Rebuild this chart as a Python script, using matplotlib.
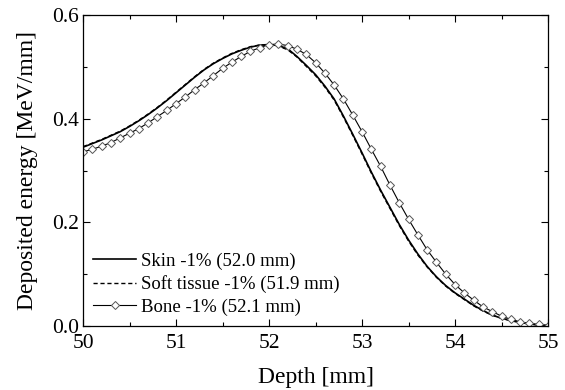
import matplotlib
matplotlib.use("Agg")
import matplotlib.pyplot as plt
import numpy as np
from matplotlib.ticker import MultipleLocator

plt.rcParams['font.family'] = ['Liberation Serif', 'DejaVu Serif']

depth = np.round(np.arange(50.0, 55.05, 0.1), 1)

skin = [0.345, 0.352, 0.359, 0.367, 0.375, 0.385, 0.396, 0.408, 0.421, 0.435,
        0.450, 0.465, 0.480, 0.494, 0.506, 0.516, 0.525, 0.532, 0.538, 0.542,
        0.543, 0.541, 0.535, 0.520, 0.503, 0.485, 0.463, 0.438, 0.405, 0.370,
        0.334, 0.297, 0.262, 0.229, 0.196, 0.166, 0.139, 0.115, 0.095, 0.078,
        0.064, 0.052, 0.040, 0.030, 0.021, 0.015, 0.011, 0.007, 0.004, 0.002,
        0.001]

soft = [0.346, 0.353, 0.360, 0.368, 0.376, 0.386, 0.397, 0.409, 0.422, 0.436,
        0.451, 0.466, 0.481, 0.495, 0.507, 0.517, 0.526, 0.533, 0.539, 0.542,
        0.542, 0.540, 0.533, 0.519, 0.501, 0.483, 0.461, 0.436, 0.403, 0.368,
        0.332, 0.295, 0.260, 0.227, 0.194, 0.164, 0.137, 0.114, 0.094, 0.077,
        0.063, 0.051, 0.039, 0.029, 0.021, 0.015, 0.010, 0.007, 0.004, 0.002,
        0.001]

bone = [0.336, 0.341, 0.347, 0.354, 0.363, 0.372, 0.381, 0.392, 0.404, 0.416,
        0.429, 0.442, 0.456, 0.469, 0.483, 0.497, 0.509, 0.520, 0.530, 0.537,
        0.543, 0.544, 0.541, 0.534, 0.524, 0.508, 0.488, 0.465, 0.438, 0.407,
        0.375, 0.341, 0.308, 0.272, 0.238, 0.206, 0.176, 0.147, 0.123, 0.100,
        0.080, 0.064, 0.050, 0.037, 0.028, 0.019, 0.013, 0.008, 0.005, 0.003,
        0.001]

labels = ['Skin -1% (52.0 mm)', 'Soft tissue -1% (51.9 mm)', 'Bone -1% (52.1 mm)']

fig = plt.figure(figsize=(5.65, 3.9), dpi=100)
ax = fig.add_axes([0.147, 0.164, 0.823, 0.7975])

ax.plot(depth, skin, color='black', lw=1.2, label=labels[0])
ax.plot(depth, soft, color='black', lw=1.0, ls=(0, (3, 2)), label=labels[1])
ax.plot(depth, bone, color='black', lw=0.8, marker='D', ms=4.4,
        mfc='white', mec='#555555', mew=0.7, label=labels[2])

ax.set_xlim(50, 55)
ax.set_ylim(0, 0.6)
ax.xaxis.set_major_locator(MultipleLocator(1))
ax.xaxis.set_minor_locator(MultipleLocator(0.5))
ax.yaxis.set_major_locator(MultipleLocator(0.2))
ax.yaxis.set_minor_locator(MultipleLocator(0.1))
ax.yaxis.set_major_formatter(plt.FuncFormatter(lambda v, p: '%.1f' % v))
ax.tick_params(which='both', direction='in', top=True, right=True, labelsize=15.5, width=0.8)
ax.tick_params(which='major', length=5)
ax.tick_params(which='minor', length=3)
ax.tick_params(axis='x', which='major', pad=6)
ax.tick_params(axis='y', which='major', pad=3)
for s in ax.spines.values():
    s.set_linewidth(0.9)

ax.set_xlabel('Depth [mm]', fontsize=17, labelpad=10)
ax.set_ylabel('Deposited energy [MeV/mm]', fontsize=17, labelpad=10)

ax.legend(loc='lower left', frameon=False, fontsize=13.5, handlelength=2.3,
          handletextpad=0.25, labelspacing=0.28, numpoints=1,
          borderaxespad=0.2, borderpad=0.35)

fig.savefig('out.png', dpi=100)
